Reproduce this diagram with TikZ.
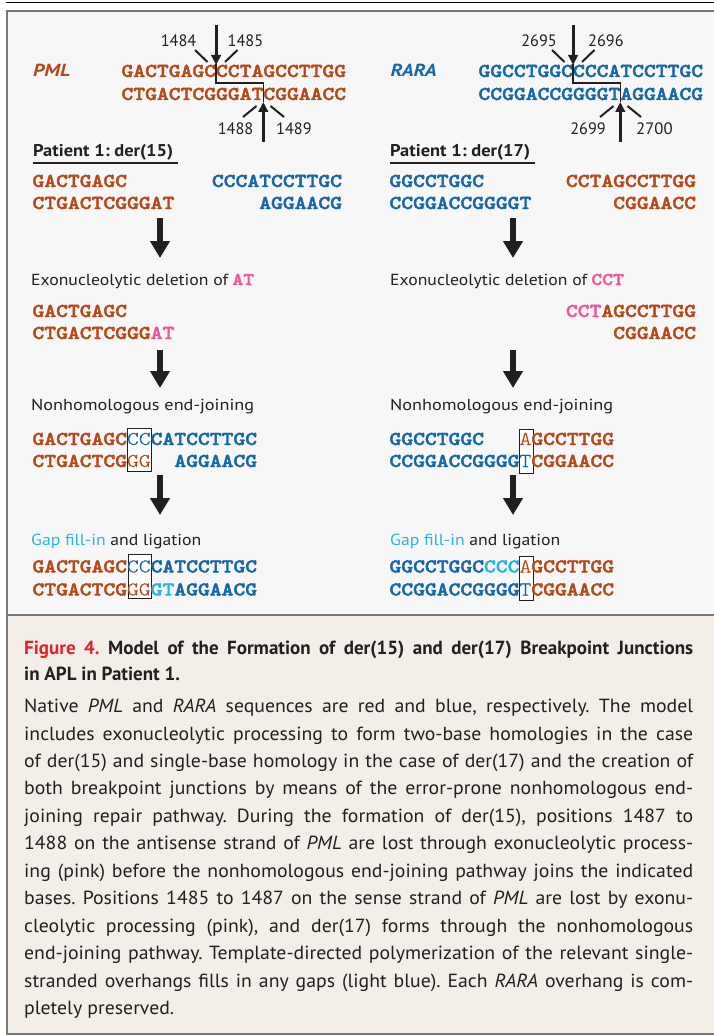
\documentclass[tikz,border=0pt]{standalone}
\usepackage{fontspec}
\usepackage{graphicx}
\setmainfont{PT Sans}
\IfFontExistsTF{lmmonolt10-bold.otf}{%
  \newfontfamily\seqfont{lmmonolt10}[Extension=.otf, UprightFont=*-regular, BoldFont=*-bold, FakeStretch=1.143, BoldFeatures={FakeBold=2.2}, UprightFeatures={FakeBold=0.6}]}{%
  \newfontfamily\seqfont{Liberation Mono}}
\newfontfamily\capfont{PT Sans}[FakeStretch=1.04]
\newfontfamily\capbold{PT Sans Bold}
\usetikzlibrary{arrows.meta}
\definecolor{pml}{RGB}{183,72,26}
\definecolor{rara}{RGB}{22,102,170}
\definecolor{exo}{RGB}{238,88,158}
\definecolor{lblue}{RGB}{40,180,232}
\definecolor{figred}{RGB}{230,32,40}
\definecolor{txt}{RGB}{35,31,32}
\definecolor{frame}{RGB}{120,120,120}
\definecolor{panelbg}{RGB}{247,247,247}
\definecolor{capbg}{RGB}{243,238,232}
\newdimen\fitlen
\newcommand\fitto[2]{\settowidth\fitlen{#2}\scalebox{\fpeval{#1/(\the\fitlen)}}[1]{#2}}
\newcommand\mono[1]{{\seqfont\bfseries\fontsize{18}{20}\selectfont #1}}
\newcommand\md[1]{{\mdseries #1}}
\newcommand\cl[1]{\makebox[669pt][s]{#1}}
\frenchspacing
\tikzset{
 seq/.style={anchor=base west, inner sep=0pt, outer sep=0pt, font=\seqfont\bfseries\fontsize{19.7}{22}\selectfont},
 seqr/.style={seq, anchor=base east},
 lbl/.style={anchor=base west, inner sep=0pt, text=txt, font=\fontsize{16}{18}\selectfont},
 pat/.style={anchor=base west, inner sep=0pt, text=txt, font=\bfseries\fontsize{17}{18}\selectfont},
 num/.style={inner sep=0pt, text=txt, font=\fontsize{16.5}{18}\selectfont},
 gene/.style={anchor=base west, inner sep=0pt, font=\bfseries\itshape\fontsize{17.5}{18}\selectfont},
 bigarrow/.style={line width=5.8pt, draw=txt, -{Triangle[width=19pt,length=17pt]}},
 smallarrow/.style={line width=3pt, draw=txt, -{Triangle[width=9.5pt,length=10pt]}},
 tick/.style={line width=2pt, draw=txt},
 stepline/.style={line width=1.3pt, draw=txt},
 jbox/.style={draw=txt, fill=white, line width=0.9pt},
 uline/.style={line width=2.3pt, draw=txt},
 capline/.style={anchor=base west, inner sep=0pt, text=txt, font=\capfont\fontsize{19}{22}\selectfont},
 captitle/.style={capline, font=\capbold\fontsize{19}{22}\selectfont},
}
\begin{document}
\begin{tikzpicture}[x=1pt,y=-1pt]
\useasboundingbox (0,0) rectangle (713,1035);
% frames
\fill[panelbg] (7,11) rectangle (720,615);
\fill[capbg] (7,615) rectangle (720,1034);
\draw[line width=1.6pt, black] (6,2.5) -- (720,2.5);
\draw[line width=2pt, frame] (720,11) -- (7,11) -- (7,1034) -- (720,1034);
\draw[line width=2pt, frame] (7,615) -- (720,615);

% ===== top: PML =====
\node[gene, text=pml] (pmlname) at (33,77) {\fitto{37pt}{PML}};
\node[seq, text=pml] (pmlA) at (121.5,77) {GACTGAGCCCTAGCCTTGG};
\node[seq, text=pml] (pmlB) at (121.5,100) {CTGACTCGGGATCGGAACC};
\draw[stepline] (216.1,64) -- (216.1,83) -- (263.3,83) -- (263.3,102);
\coordinate (pmlTs) at (216.1,25); \coordinate (pmlTe) at (216.1,65);
\coordinate (pmlBs) at (263.3,142); \coordinate (pmlBe) at (263.3,102);
\draw[smallarrow] (pmlTs) -- (pmlTe);
\draw[smallarrow] (pmlBs) -- (pmlBe);
\draw[tick] (195,50) -- (207.5,62);
\draw[tick] (237.5,50) -- (225,62);
\draw[tick] (256.5,106) -- (243,117);
\draw[tick] (270.5,106) -- (284,117);
\node[num, anchor=base east] (n1484) at (196.5,46.5) {\fitto{35.5pt}{1484}};
\node[num, anchor=base west] (n1485) at (227.5,46.5) {\fitto{35.5pt}{1485}};
\node[num, anchor=base east] (n1488) at (253.5,135) {\fitto{35.5pt}{1488}};
\node[num, anchor=base west] (n1489) at (276,135) {\fitto{35.5pt}{1489}};

% ===== top: RARA =====
\node[gene, text=rara] (raraname) at (390.5,77) {\fitto{46pt}{RARA}};
\node[seq, text=rara] (raraA) at (478.5,77) {GGCCTGGCCCCATCCTTGC};
\node[seq, text=rara] (raraB) at (478.5,100) {CCGGACCGGGGTAGGAACG};
\draw[stepline] (573.1,64) -- (573.1,83) -- (620.3,83) -- (620.3,102);
\coordinate (raraTs) at (573.1,25); \coordinate (raraTe) at (573.1,65);
\coordinate (raraBs) at (620.3,142); \coordinate (raraBe) at (620.3,102);
\draw[smallarrow] (raraTs) -- (raraTe);
\draw[smallarrow] (raraBs) -- (raraBe);
\draw[tick] (552,50) -- (564.5,62);
\draw[tick] (594.5,50) -- (582,62);
\draw[tick] (613.5,106) -- (600,117);
\draw[tick] (627.5,106) -- (641,117);
\node[num, anchor=base east] (n2695) at (557,46.5) {\fitto{35.5pt}{2695}};
\node[num, anchor=base west] (n2696) at (588,46.5) {\fitto{35.5pt}{2696}};
\node[num, anchor=base east] (n2699) at (606,135) {\fitto{35.5pt}{2699}};
\node[num, anchor=base west] (n2700) at (636,135) {\fitto{36.5pt}{2700}};

% ===== left column: der(15) =====
\node[pat] (pat15) at (33,157) {\fitto{140pt}{Patient 1: der(15)}};
\draw[uline] ([yshift=-6pt]pat15.base west) -- ([yshift=-6pt,xshift=5pt]pat15.base east);
\node[seq, text=pml] (l1a) at (32.5,187) {GACTGAGC};
\node[seq, text=pml] (l1b) at (32.5,209) {CTGACTCGGGAT};
\node[seqr, text=rara] (l1c) at (342,187) {CCCATCCTTGC};
\node[seqr, text=rara] (l1d) at (342,209) {AGGAACG};
\coordinate (la1s) at (160,218); \coordinate (la1e) at (160,258);
\draw[bigarrow] (la1s) -- (la1e);
\node[lbl] (lexo) at (31,285) {\fitto{197pt}{Exonucleolytic deletion of}\ \mono{\color{exo}AT}};
\node[seq, text=pml] (l2a) at (32.5,317) {GACTGAGC};
\node[seq, text=pml] (l2b) at (32.5,339) {CTGACTCGGG\textcolor{exo}{AT}};
\coordinate (la2s) at (160,350); \coordinate (la2e) at (160,388);
\draw[bigarrow] (la2s) -- (la2e);
\node[lbl] (lnhej) at (31,410) {\fitto{223pt}{Nonhomologous end-joining}};
\draw[jbox] (127,428.5) rectangle (151.8,471.5);
\node[seq] (l3a) at (32.5,445) {\textcolor{pml}{GACTGAGC}\textcolor{rara}{\md{CC}}\textcolor{rara}{CATCCTTGC}};
\node[seq] (l3b) at (32.5,467) {\textcolor{pml}{CTGACTCG}\textcolor{pml}{\md{GG}}\phantom{GG}\textcolor{rara}{AGGAACG}};
\coordinate (la3s) at (160,475); \coordinate (la3e) at (160,515);
\draw[bigarrow] (la3s) -- (la3e);
\node[lbl] (lgap) at (31,545) {\fitto{170pt}{\textcolor{lblue}{Gap fill-in} and ligation}};
\draw[jbox] (128,554.5) rectangle (151.8,598.5);
\node[seq] (l4a) at (32.5,572.5) {\textcolor{pml}{GACTGAGC}\textcolor{rara}{\md{CC}}\textcolor{rara}{CATCCTTGC}};
\node[seq] (l4b) at (32.5,595.5) {\textcolor{pml}{CTGACTCG}\textcolor{pml}{\md{GG}}\textcolor{lblue}{GT}\textcolor{rara}{AGGAACG}};

% ===== right column: der(17) =====
\node[pat] (pat17) at (390,157) {\fitto{140pt}{Patient 1: der(17)}};
\draw[uline] ([yshift=-6pt]pat17.base west) -- ([yshift=-6pt,xshift=5pt]pat17.base east);
\node[seq, text=rara] (r1a) at (389.5,187) {GGCCTGGC};
\node[seq, text=rara] (r1b) at (389.5,209) {CCGGACCGGGGT};
\node[seqr, text=pml] (r1c) at (696,187) {CCTAGCCTTGG};
\node[seqr, text=pml] (r1d) at (696,209) {CGGAACC};
\coordinate (ra1s) at (513,218); \coordinate (ra1e) at (513,258);
\draw[bigarrow] (ra1s) -- (ra1e);
\node[lbl] (rexo) at (390,285) {\fitto{197pt}{Exonucleolytic deletion of}\ \mono{\color{exo}CCT}};
\node[seqr] (r2a) at (696,317) {\textcolor{exo}{CCT}\textcolor{pml}{AGCCTTGG}};
\node[seqr, text=pml] (r2b) at (696,339) {CGGAACC};
\coordinate (ra2s) at (513,350); \coordinate (ra2e) at (513,388);
\draw[bigarrow] (ra2s) -- (ra2e);
\node[lbl] (rnhej) at (390,410) {\fitto{223pt}{Nonhomologous end-joining}};
\draw[jbox] (519.5,429) rectangle (533,473.5);
\node[seq] (r3a) at (389.5,445) {\textcolor{rara}{GGCCTGGC}\phantom{CCC}\textcolor{pml}{\md{A}}\textcolor{pml}{GCCTTGG}};
\node[seq] (r3b) at (389.5,467) {\textcolor{rara}{CCGGACCGGGG}\textcolor{rara}{\md{T}}\textcolor{pml}{CGGAACC}};
\coordinate (ra3s) at (513,475); \coordinate (ra3e) at (513,515);
\draw[bigarrow] (ra3s) -- (ra3e);
\node[lbl] (rgap) at (390,545) {\fitto{170pt}{\textcolor{lblue}{Gap fill-in} and ligation}};
\draw[jbox] (519.5,556.5) rectangle (533,600.5);
\node[seq] (r4a) at (389.5,572.5) {\textcolor{rara}{GGCCTGGC}\textcolor{lblue}{CCC}\textcolor{pml}{\md{A}}\textcolor{pml}{GCCTTGG}};
\node[seq] (r4b) at (389.5,595.5) {\textcolor{rara}{CCGGACCGGGG}\textcolor{rara}{\md{T}}\textcolor{pml}{CGGAACC}};

% ===== caption =====
\node[captitle] (t1) at (24,654) {\cl{\textcolor{figred}{Figure 4.} Model of the Formation of der(15) and der(17) Breakpoint Junctions}};
\node[captitle] (t2) at (24,680) {in APL in Patient 1.};
\node[capline] (c0) at (24,712.6) {\cl{Native \textit{PML} and \textit{RARA} sequences are red and blue, respectively. The model}};
\node[capline] (c1) at (24,740.05) {\cl{includes exonucleolytic processing to form two-base homologies in the case}};
\node[capline] (c2) at (24,767.5) {\cl{of der(15) and single-base homology in the case of der(17) and the creation of}};
\node[capline] (c3) at (24,794.95) {\cl{both breakpoint junctions by means of the error-prone nonhomologous end-}};
\node[capline] (c4) at (24,822.4) {\cl{joining repair pathway. During the formation of der(15), positions 1487 to}};
\node[capline] (c5) at (24,849.85) {\cl{1488 on the antisense strand of \textit{PML} are lost through exonucleolytic process-}};
\node[capline] (c6) at (24,877.3) {\cl{ing (pink) before the nonhomologous end-joining pathway joins the indicated}};
\node[capline] (c7) at (24,904.75) {\cl{bases. Positions 1485 to 1487 on the sense strand of \textit{PML} are lost by exonu-}};
\node[capline] (c8) at (24,932.2) {\cl{cleolytic processing (pink), and der(17) forms through the nonhomologous}};
\node[capline] (c9) at (24,959.65) {\cl{end-joining pathway. Template-directed polymerization of the relevant single-}};
\node[capline] (c10) at (24,987.1) {\cl{stranded overhangs fills in any gaps (light blue). Each \textit{RARA} overhang is com-}};
\node[capline] (c11) at (24,1014.5) {pletely preserved.};
\end{tikzpicture}
\end{document}
